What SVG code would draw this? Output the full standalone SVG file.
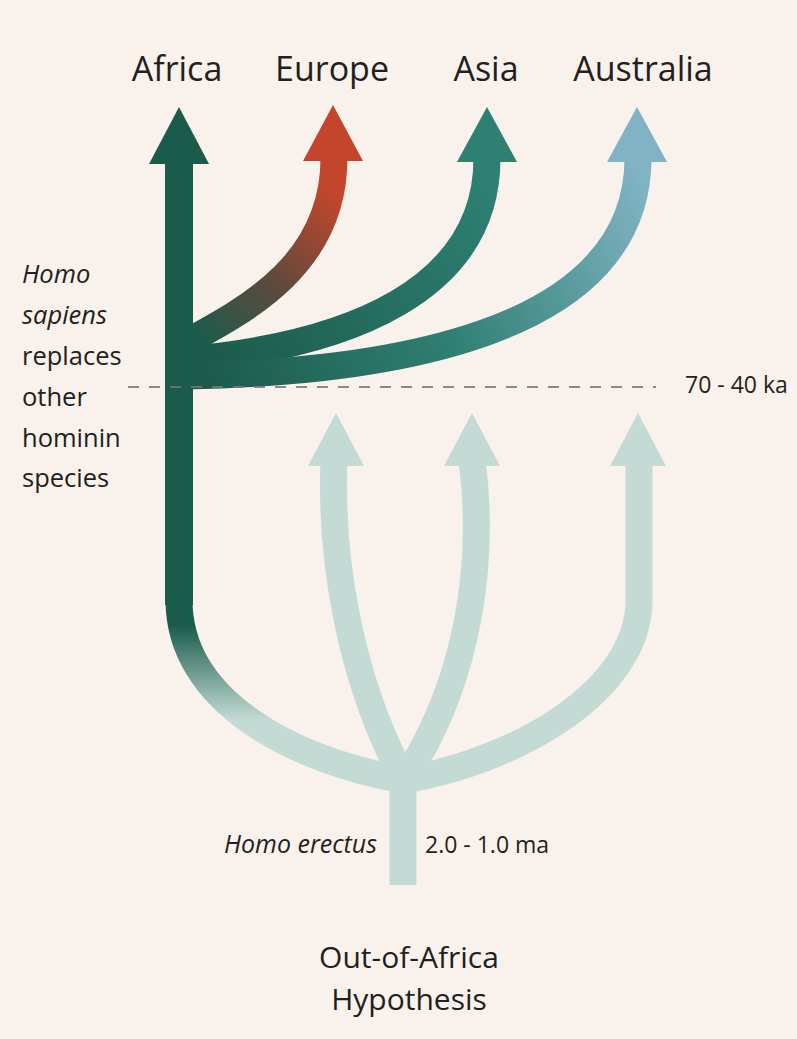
<svg xmlns="http://www.w3.org/2000/svg" width="797" height="1039" viewBox="0 0 797 1039">
<style>
.lbl{font-family:"Open Sans","Liberation Sans",sans-serif;fill:#231f20}
.top{font-size:34px;text-anchor:middle}
.side{font-size:25.5px}
.it{font-style:italic}
.small{font-size:23px}
.title{font-size:30px;text-anchor:middle}
.light{fill:none;stroke:#c4dbd5;stroke-width:27}
</style>
<defs>
<linearGradient id="gAfr" gradientUnits="userSpaceOnUse" x1="0" y1="625" x2="0" y2="720">
<stop offset="0" stop-color="#1a5b4c"/><stop offset="1" stop-color="#c4dbd5"/>
</linearGradient>
<linearGradient id="gEur" gradientUnits="userSpaceOnUse" x1="200" y1="335" x2="335" y2="195">
<stop offset="0" stop-color="#1f5b4c"/><stop offset="0.45" stop-color="#5c4a3d"/><stop offset="1" stop-color="#c3462c"/>
</linearGradient>
<linearGradient id="gAsia" gradientUnits="userSpaceOnUse" x1="200" y1="355" x2="487" y2="180">
<stop offset="0" stop-color="#1c5a4b"/><stop offset="1" stop-color="#2d8072"/>
</linearGradient>
<linearGradient id="gAus" gradientUnits="userSpaceOnUse" x1="200" y1="378" x2="637" y2="170">
<stop offset="0" stop-color="#1c5a4b"/><stop offset="0.5" stop-color="#2f7f73"/><stop offset="1" stop-color="#80b3c4"/>
</linearGradient>
</defs>
<rect width="797" height="1039" fill="#f9f1eb"/>

<g id="connectors">
<path class="light" d="M403,770 L403,885"/>
<path class="light" d="M334,460 C330,560 350,680 404,780"/>
<path class="light" d="M472,460 C485,560 470,680 404,780"/>
<path class="light" d="M639,460 L639,600 C639,690 520,760 404,780"/>
<path d="M179,600 C179,700 290,760 404,780" fill="none" stroke="url(#gAfr)" stroke-width="27"/>
<path d="M185,343 C250,308 334,262 334,158" fill="none" stroke="url(#gEur)" stroke-width="27"/>
<path d="M185,360 C350,345 487,290 487,158" fill="none" stroke="url(#gAsia)" stroke-width="27"/>
<path d="M185,376 C400,372 638,330 638,158" fill="none" stroke="url(#gAus)" stroke-width="27"/>
<path d="M179,160 L179,605" fill="none" stroke="#1a5b4c" stroke-width="28"/>
<path d="M128,387 L656,387" fill="none" stroke="#777" stroke-width="2" stroke-dasharray="11 10" opacity="0.85"/>
</g>

<g id="arrowheads">
<polygon points="179,107 149,164 209,164" fill="#1a5b4c"/>
<polygon points="333,105 303,161 363,161" fill="#c3462c"/>
<polygon points="487,107 457,162 517,162" fill="#2d8072"/>
<polygon points="637,107 607,162 667,162" fill="#80b3c4"/>
<polygon points="336,413 308,466 364,466" fill="#c4dbd5"/>
<polygon points="472,413 444,466 500,466" fill="#c4dbd5"/>
<polygon points="638,413 610,466 666,466" fill="#c4dbd5"/>
</g>

<g id="node-africa"><text class="lbl top" x="177" y="81">Africa</text></g>
<g id="node-europe"><text class="lbl top" x="332" y="81">Europe</text></g>
<g id="node-asia"><text class="lbl top" x="486" y="81">Asia</text></g>
<g id="node-australia"><text class="lbl top" x="643" y="81">Australia</text></g>

<g id="node-sapiens">
<text class="lbl side it" x="22" y="283">Homo</text>
<text class="lbl side it" x="22" y="324">sapiens</text>
<text class="lbl side" x="22" y="365">replaces</text>
<text class="lbl side" x="22" y="406">other</text>
<text class="lbl side" x="22" y="447">hominin</text>
<text class="lbl side" x="22" y="487">species</text>
</g>

<g id="node-time-ka"><text class="lbl small" x="685" y="393">70 - 40 ka</text></g>
<g id="node-erectus">
<text class="lbl small it" x="377" y="853" text-anchor="end" style="font-size:25px">Homo erectus</text>
<text class="lbl small" x="425" y="853">2.0 - 1.0 ma</text>
</g>
<g id="node-title">
<text class="lbl title" x="409" y="968">Out-of-Africa</text>
<text class="lbl title" x="409" y="1010">Hypothesis</text>
</g>
</svg>
